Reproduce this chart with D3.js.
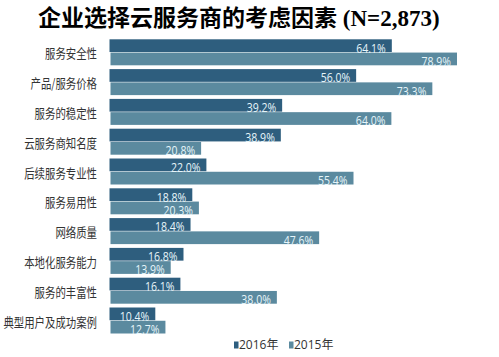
<!DOCTYPE html>
<html>
<head>
<meta charset="utf-8">
<script src="https://cdn.jsdelivr.net/npm/d3@7"></script>
<style>
  html, body { margin: 0; padding: 0; background: #fff; }
  svg { display: block; }
</style>
</head>
<body>
<svg id="chart" width="499" height="357"></svg>
<script>
const categories = ["服务安全性","产品/服务价格","服务的稳定性","云服务商知名度","后续服务专业性","服务易用性","网络质量","本地化服务能力","服务的丰富性","典型用户及成功案例"];
const series = ["2016年","2015年"];
const values2016 = [64.1, 56.0, 39.2, 38.9, 22.0, 18.8, 18.4, 16.8, 16.1, 10.4];
const values2015 = [78.9, 73.3, 64.0, 20.8, 55.4, 20.3, 47.6, 13.9, 38.0, 12.7];
const colors = ["#2e5e7e", "#5b8a9f"];

const svg = d3.select("#chart");

const x = d3.scaleLinear().domain([0, 78.9]).range([109.5, 457]);
const y = d3.scaleBand().domain(categories).range([39.3, 333.5]).paddingInner(0.1275).paddingOuter(0);
const ys = d3.scaleBand().domain(series).range([0, y.bandwidth()]).paddingInner(0.04);

const data = categories.map((c, i) => ({ cat: c, vals: [values2016[i], values2015[i]] }));

// Title
const title = svg.append("text").attr("x", 38).attr("y", 26).attr("fill", "#000");
title.append("tspan").text("企业选择云服务商的考虑因素")
  .style("font-family", "'Noto Sans CJK SC', sans-serif").style("font-weight", 700).style("font-size", "23px");
title.append("tspan").text(" (N=2,873)")
  .style("font-family", "'Liberation Serif', 'DejaVu Serif', serif").style("font-weight", 700).style("font-size", "23px");

// Category labels
svg.append("g").selectAll("text").data(categories).join("text")
  .attr("transform", d => `translate(97,${y(d) + y.bandwidth() / 2}) scale(0.8,1)`)
  .attr("text-anchor", "end").attr("dominant-baseline", "central")
  .style("font-family", "'Noto Sans CJK SC', sans-serif").style("font-size", "13px")
  .attr("fill", "#333").text(d => d);

// Bars
const groups = svg.append("g").selectAll("g").data(data).join("g")
  .attr("transform", d => `translate(0,${y(d.cat)})`);

groups.selectAll("rect").data(d => d.vals.map((v, j) => ({ s: series[j], v, j }))).join("rect")
  .attr("x", d => x(0) + d.j)
  .attr("y", d => ys(d.s))
  .attr("width", d => x(d.v) - x(0) - d.j)
  .attr("height", ys.bandwidth())
  .attr("fill", d => colors[d.j]);

groups.selectAll("text").data(d => d.vals.map((v, j) => ({ s: series[j], v, j }))).join("text")
  .attr("transform", d => `translate(${x(d.v) - 6},${ys(d.s) + ys.bandwidth() + 0.5}) scale(0.78,1)`)
  .attr("text-anchor", "end")
  .style("font-family", "'Open Sans', sans-serif").style("font-size", "13.5px")
  .attr("fill", "#e6f5fa")
  .text(d => d.v.toFixed(1) + "%");

// Legend
const legendX = [234, 289];
const lg = svg.append("g").selectAll("g").data(series).join("g")
  .attr("transform", (d, i) => `translate(${legendX[i]},0)`);
lg.append("rect").attr("x", 0).attr("y", 341.5).attr("width", 4.5).attr("height", 7)
  .attr("fill", (d, i) => colors[i]);
lg.append("text").attr("x", 5).attr("y", 349)
  .style("font-family", "'Open Sans', 'Noto Sans CJK SC', sans-serif").style("font-size", "12px")
  .attr("fill", "#333").text(d => d);
</script>
</body>
</html>
